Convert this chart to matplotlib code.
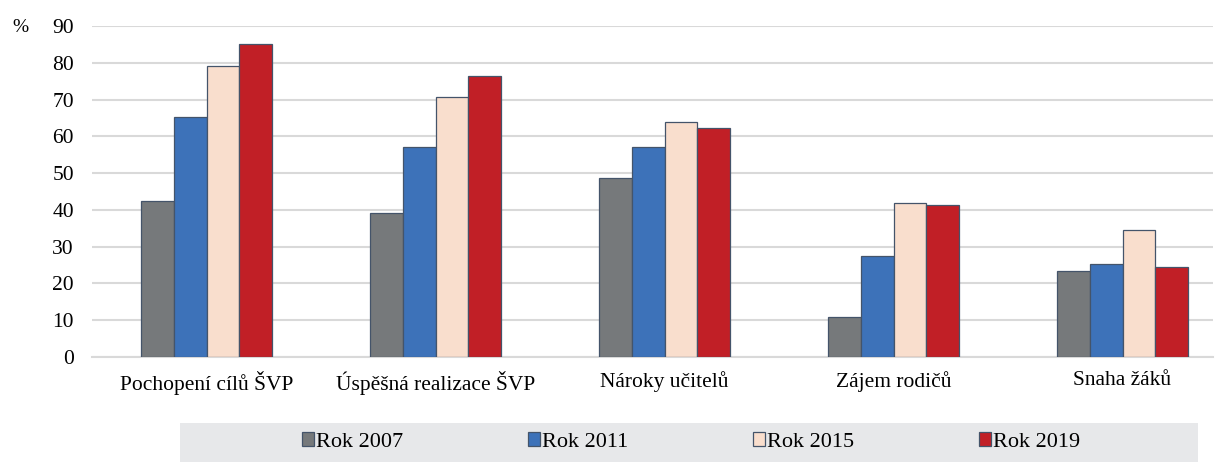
import matplotlib
matplotlib.use("Agg")
import matplotlib.pyplot as plt
from matplotlib.patches import Rectangle
import numpy as np

categories = ["Pochopení cílů ŠVP", "Úspěšná realizace ŠVP", "Nároky učitelů",
              "Zájem rodičů", "Snaha žáků"]
series = ["Rok 2007", "Rok 2011", "Rok 2015", "Rok 2019"]
v2007 = [42.5, 39.1, 48.7, 11.0, 23.5]
v2011 = [65.2, 57.2, 57.0, 27.5, 25.3]
v2015 = [79.0, 70.8, 64.0, 42.0, 34.5]
v2019 = [85.0, 76.4, 62.2, 41.2, 24.5]
colors = ["#76797b", "#3d72b9", "#f9decd", "#c11f26"]

plt.rcParams["font.family"] = ["Liberation Serif", "DejaVu Serif"]

fig = plt.figure(figsize=(12.26, 4.62), dpi=100)
ax = fig.add_axes([92 / 1226, 105 / 462, 1121 / 1226, 331 / 462])

x = np.arange(len(categories))
w = 0.143
for i, (vals, c, lab) in enumerate(zip([v2007, v2011, v2015, v2019], colors, series)):
    ax.bar(x + (i - 1.5) * w, vals, w, color=c, edgecolor="#44546a",
           linewidth=0.9, label=lab, zorder=3)

ax.set_xlim(-0.5, 4.395)
ax.set_ylim(0, 90)
ax.set_yticks(range(0, 91, 10))
ax.yaxis.grid(True, color="#d9d9d9", linewidth=1.5, zorder=0)
ax.set_axisbelow(True)
for s in ["top", "right", "left"]:
    ax.spines[s].set_visible(False)
ax.spines["bottom"].set_color("#d9d9d9")
ax.spines["bottom"].set_linewidth(1.5)
ax.set_xticks(x)
ax.set_xticklabels(categories)
ax.tick_params(axis="both", length=0, labelsize=15.5, colors="#000000")
ax.tick_params(axis="x", pad=10)
ax.tick_params(axis="y", pad=13)

fig.text(12 / 1226, 1 - 27 / 462, "%", fontsize=14, va="center", ha="left")

fig.patches.append(Rectangle((180 / 1226, 0), 1018 / 1226, 39 / 462,
                             transform=fig.transFigure, facecolor="#e7e8ea",
                             edgecolor="none", zorder=0))
leg = fig.legend(loc="center", bbox_to_anchor=(691 / 1226, 20 / 462), ncol=4,
                 frameon=False, fontsize=16, handlelength=0.55, handleheight=0.55,
                 handletextpad=0.1, columnspacing=5.6)

fig.savefig("out.png", dpi=100)
